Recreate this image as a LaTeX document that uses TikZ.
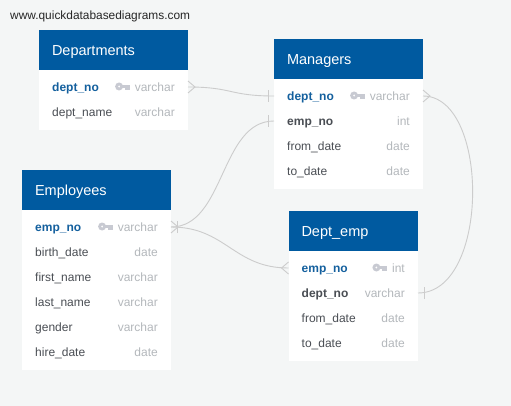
\documentclass[tikz,border=0pt]{standalone}
\usepackage{fontspec}
\setmainfont{Liberation Sans}
\definecolor{bgc}{HTML}{F4F6F6}
\definecolor{headc}{HTML}{005AA0}
\definecolor{linkc}{HTML}{CCCCCC}
\definecolor{pkc}{HTML}{14609E}
\definecolor{fldc}{HTML}{4A4E54}
\definecolor{typec}{HTML}{B4B8BC}
\definecolor{keyc}{HTML}{C8CAD2}
\tikzset{
  x=1pt,y=-1pt,
  bodybox/.style={fill=white,draw=none,anchor=north west,inner sep=0pt,outer sep=0pt},
  headbox/.style={fill=headc,draw=none,anchor=north west,inner sep=0pt,outer sep=0pt,minimum height=40pt,text=white,font=\fontsize{14.5}{16}\selectfont,align=left,inner xsep=13pt,text height=14.5pt,text depth=3.5pt},
  rowbox/.style={draw=none,anchor=west,inner sep=0pt,outer sep=0pt,minimum height=25pt},
  fld/.style={anchor=west,inner sep=0pt,text=fldc,font=\fontsize{12}{14}\selectfont,text height=11pt,text depth=2.5pt},
  pk/.style={fld,text=pkc,font=\fontsize{12}{14}\selectfont\bfseries},
  fk/.style={fld,font=\fontsize{12}{14}\selectfont\bfseries},
  typ/.style={anchor=east,inner sep=0pt,text=typec,font=\fontsize{12}{14}\selectfont,text height=11pt,text depth=2.5pt},
  link/.style={draw=linkc,line width=0.9pt},
  endmark/.style={draw=linkc,line width=0.9pt},
}
% \tbl{name}{x}{y}{width}{rows}{title}
\newcommand{\tbl}[6]{%
  \node[bodybox,minimum width=#4pt,minimum height=#5*25pt+50pt] (#1) at (#2,#3) {};
  \node[headbox,minimum width=#4pt,text width=#4pt-26pt] (#1h) at (#2,#3) {#6};
}
% \rw{id}{x}{y}{width}{style}{field}{type}
\newcommand{\rw}[7]{%
  \node[rowbox,minimum width=#4pt] (#1) at (#2,#3) {};
  \node[#5] (#1f) at (#2+13,#3) {#6};
  \node[typ] (#1t) at (#2+#4-13,#3) {#7};
}
% \keyicon{id}
\newcommand{\keyicon}[1]{%
  \fill[keyc,even odd rule] ([xshift=-4.5pt]#1t.west) ++(-11,-0.5) circle (4pt) circle (1.2pt);
  \fill[keyc] ([xshift=-4.5pt]#1t.west) ++(-8,-2) rectangle ++(8,3);
  \fill[keyc] ([xshift=-4.5pt]#1t.west) ++(-5,0) rectangle ++(4.5,2.8);
}
\begin{document}
\begin{tikzpicture}
\useasboundingbox[fill=bgc] (0,0) rectangle (511,406);
\node[anchor=west,inner sep=0pt,text=black!85,font=\fontsize{11.9}{13}\selectfont] (site) at (10,16) {www.quickdatabasediagrams.com};

\tbl{D}{39}{30}{149}{2}{Departments}
\rw{Da}{39}{87}{149}{pk}{dept\_no}{varchar}
\rw{Db}{39}{112}{149}{fld}{dept\_name}{varchar}
\keyicon{Da}

\tbl{M}{274}{39}{149}{4}{Managers}
\rw{Ma}{274}{96}{149}{pk}{dept\_no}{varchar}
\rw{Mb}{274}{121}{149}{fk}{emp\_no}{int}
\rw{Mc}{274}{146}{149}{fld}{from\_date}{date}
\rw{Md}{274}{171}{149}{fld}{to\_date}{date}
\keyicon{Ma}

\tbl{E}{22}{170}{149}{6}{Employees}
\rw{Ea}{22}{227}{149}{pk}{emp\_no}{varchar}
\rw{Eb}{22}{252}{149}{fld}{birth\_date}{date}
\rw{Ec}{22}{277}{149}{fld}{first\_name}{varchar}
\rw{Ed}{22}{302}{149}{fld}{last\_name}{varchar}
\rw{Ee}{22}{327}{149}{fld}{gender}{varchar}
\rw{Ef}{22}{352}{149}{fld}{hire\_date}{date}
\keyicon{Ea}

\tbl{P}{288.5}{211}{129.5}{4}{Dept\_emp}
\rw{Pa}{288.5}{268}{129.5}{pk}{emp\_no}{int}
\rw{Pb}{288.5}{293}{129.5}{fk}{dept\_no}{varchar}
\rw{Pc}{288.5}{318}{129.5}{fld}{from\_date}{date}
\rw{Pd}{288.5}{343}{129.5}{fld}{to\_date}{date}
\keyicon{Pa}

% connectors
\draw[link] (Da.east) .. controls +(45,0) and +(-45,0) .. (Ma.west);
\draw[link] (Ea.east) .. controls +(54,0) and +(-54,0) .. (Mb.west);
\draw[link] (Ea.east) .. controls +(55,0) and +(-55,0) .. (Pa.west);
\draw[link] (Ma.east) .. controls +(67,0) and +(72,0) .. (Pb.east);

% crow's feet
\draw[endmark] ([yshift=-6pt]Da.east) -- ([xshift=7pt]Da.east) -- ([yshift=6pt]Da.east);
\draw[endmark] ([yshift=-6pt]Ma.east) -- ([xshift=7pt]Ma.east) -- ([yshift=6pt]Ma.east);
\draw[endmark] ([yshift=-6pt]Pa.west) -- ([xshift=-7pt]Pa.west) -- ([yshift=6pt]Pa.west);
\draw[endmark] ([yshift=-6pt]Ea.east) -- ([xshift=7pt]Ea.east) -- ([yshift=6pt]Ea.east);
% one ticks
\draw[endmark] ([xshift=-6pt,yshift=-6pt]Ma.west) -- ([xshift=-6pt,yshift=6pt]Ma.west);
\draw[endmark] ([xshift=-6pt,yshift=-6pt]Mb.west) -- ([xshift=-6pt,yshift=6pt]Mb.west);
\draw[endmark] ([xshift=6pt,yshift=-6pt]Pb.east) -- ([xshift=6pt,yshift=6pt]Pb.east);
\draw[endmark] ([xshift=6pt,yshift=-6pt]Ea.east) -- ([xshift=6pt,yshift=6pt]Ea.east);
\end{tikzpicture}
\end{document}
